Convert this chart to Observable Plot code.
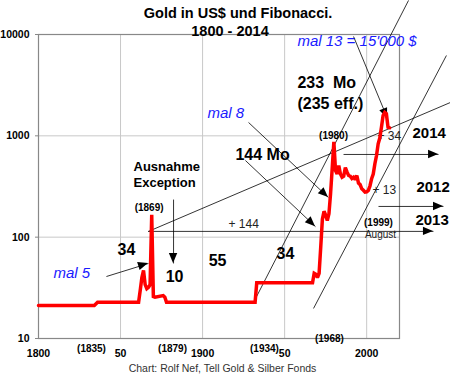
<!DOCTYPE html>
<html><head><meta charset="utf-8">
<script src="https://cdn.jsdelivr.net/npm/d3@7"></script>
<script src="https://cdn.jsdelivr.net/npm/@observablehq/plot@0.6"></script>
<style>
body{margin:0;background:#fff;}
#chart svg{display:block;overflow:visible}
g[aria-label="y-axis tick label"], g[aria-label="x-axis tick label"]{font-weight:bold;font-size:10.5px}
</style>
</head><body><div id="chart"></div>
<script>
// Gold price (US$/oz)
const years = [1800,1834,1836,1861,1862,1863,1864,1865,1866,1867,1868,1869,1870,1871,1876,1877,1878,1932,1933,1967,1968,
  1969,1970,1971,1972,1973,1974,1975,1976,1977,1978,1979,1980,1981,1982,1983,1984,1985,1986,1987,1988,1989,1990,1991,1992,
  1993,1994,1995,1996,1997,1998,1999,2000,2001,2002,2003,2004,2005,2006,2007,2008,2009,2010,2011,2012,2013,2014];
const prices = [21.2,21.2,22.8,22.8,30,40,47,34,31,32,34,166,26,25.6,26.5,25.6,22.8,22.8,35.5,35.5,44,
  43,40,44,80,150,180,165,146,170,270,480,870,455,420,509,420,391,400,487,440,406,400,380,391,
  370,406,341,330,300,290,278,280,289,320,377,420,530,640,834,950,1217,1587,1700,1650,1217,1200];

const yTicks = [10, 100, 1000, 10000];
const xTicks = [1800, 1850, 1900, 1950, 2000];
const xTickLabels = ["1800", "50", "1900", "50", "2000"];
const gridYears = [1850, 1900, 1950, 2000];
const gridValues = [100, 1000];

const series = years.map((y, i) => ({year: y, price: prices[i]}));

// Fibonacci lines and arrows (year, value)
const fibLines = [
  {x1: 1867, y1: 114, x2: 2051, y2: 2133},
  {x1: 1931.0, y1: 22.6, x2: 2025.5, y2: 21680},
  {x1: 1967.6, y1: 19.8, x2: 2048.6, y2: 6209}
];
const arrows = [
  {x1: 1866.8, y1: 114, x2: 2040.7, y2: 114},
  {x1: 1985.9, y1: 655, x2: 2043.8, y2: 655},
  {x1: 2007.2, y1: 201, x2: 2046.8, y2: 201},
  {x1: 1992.0, y1: 9550, x2: 2012.7, y2: 1483},
  {x1: 1928.0, y1: 1355, x2: 1976.7, y2: 246},
  {x1: 1926.1, y1: 571, x2: 1968.8, y2: 127},
  {x1: 1841.4, y1: 40.9, x2: 1867.0, y2: 55},
  {x1: 1882.3, y1: 235, x2: 1882.3, y2: 55}
];

const blueLabels = [
  {text: "mal 13 = 15'000 $", year: 1957.8, value: 8530},
  {text: "mal 8", year: 1903.0, value: 1660},
  {text: "mal 5", year: 1809.1, value: 43.8}
];
const bigLabels = [
  {text: "233\u00a0 Mo", year: 1957.8, value: 3357},
  {text: "(235 eff.)", year: 1957.8, value: 2084},
  {text: "144 Mo", year: 1920.0, value: 655}
];
const midLabels = [
  {text: "Ausnahme", year: 1857.9, value: 498},
  {text: "Exception", year: 1857.9, value: 347}
];
const numLabels = [
  {text: "34", year: 1853.6, value: 75.5},
  {text: "10", year: 1882.9, value: 40.9},
  {text: "55", year: 1909.1, value: 58.9},
  {text: "34", year: 1950.5, value: 69.0}
];
const yearLabels = [
  {text: "2014", year: 2027.9, value: 1054},
  {text: "2012", year: 2030.3, value: 309},
  {text: "2013", year: 2029.7, value: 146}
];
const plusLabels = [
  {text: "+ 144", year: 1915.8, value: 133},
  {text: "+ 34", year: 2006.6, value: 984},
  {text: "+ 13", year: 2003.5, value: 289}
];
const smallBold = [
  {text: "(1869)", year: 1867.4, value: 196},
  {text: "(1980)", year: 1979.8, value: 1007},
  {text: "(1999)", year: 2007.2, value: 140},
  {text: "(1835)", year: 1832.3, value: 7.96},
  {text: "(1879)", year: 1881.7, value: 7.96},
  {text: "(1934)", year: 1937.7, value: 7.96},
  {text: "(1968)", year: 1977.3, value: 10}
];
const smallRegular = [
  {text: "August", year: 2008.4, value: 106}
];

function arrowHeads(list) {
  return (index, scales) => {
    const g = d3.create("svg:g").attr("fill", "#000");
    for (const a of list) {
      const x1 = scales.x(a.x1), y1 = scales.y(a.y1), x2 = scales.x(a.x2), y2 = scales.y(a.y2);
      const ang = Math.atan2(y2 - y1, x2 - x1);
      const L = 10, W = 4.2;
      const bx = x2 - L * Math.cos(ang), by = y2 - L * Math.sin(ang);
      const px = -Math.sin(ang) * W, py = Math.cos(ang) * W;
      g.append("path").attr("d", `M${x2},${y2}L${bx + px},${by + py}L${bx - px},${by - py}Z`);
    }
    return g.node();
  };
}

const font = "'Liberation Sans', Arial, sans-serif";
const chart = Plot.plot({
  width: 450, height: 377,
  marginLeft: 38, marginRight: 51, marginTop: 34, marginBottom: 39,
  style: {fontFamily: font, fontSize: "10px", background: "#fff", color: "#000"},
  x: {domain: [1800, 2020]},
  y: {type: "log", domain: [10, 10000]},
  marks: [
    Plot.ruleX(gridYears, {stroke: "#c8c8c8", strokeWidth: 1}),
    Plot.ruleY(gridValues, {stroke: "#c8c8c8", strokeWidth: 1}),
    Plot.frame({stroke: "#888", strokeWidth: 1.2}),
    Plot.axisY({ticks: yTicks, tickFormat: d => String(d), tickSize: 3, tickPadding: 6, stroke: "#888", label: null, fontWeight: "bold"}),
    Plot.axisX({ticks: xTicks, tickFormat: d => xTickLabels[xTicks.indexOf(d)], tickSize: 0, tickPadding: 11, label: null, fontWeight: "bold"}),
    Plot.link(fibLines, {x1: "x1", y1: "y1", x2: "x2", y2: "y2", stroke: "#000", strokeWidth: 0.8}),
    Plot.link(arrows, {x1: "x1", y1: "y1", x2: "x2", y2: "y2", stroke: "#000", strokeWidth: 0.8}),
    arrowHeads(arrows),
    Plot.text(blueLabels, {x: "year", y: "value", text: "text", textAnchor: "start", fill: "#1a1aff", fontSize: 15, fontStyle: "italic"}),
    Plot.text(bigLabels, {x: "year", y: "value", text: "text", textAnchor: "start", fontSize: 16, fontWeight: "bold"}),
    Plot.text(midLabels, {x: "year", y: "value", text: "text", textAnchor: "start", fontSize: 13, fontWeight: "bold"}),
    Plot.text(numLabels, {x: "year", y: "value", text: "text", fontSize: 16, fontWeight: "bold"}),
    Plot.text(yearLabels, {x: "year", y: "value", text: "text", textAnchor: "start", fontSize: 15, fontWeight: "bold"}),
    Plot.text(plusLabels, {x: "year", y: "value", text: "text", textAnchor: "start", fontSize: 12, fill: "#222"}),
    Plot.text(smallBold, {x: "year", y: "value", text: "text", fontSize: 10, fontWeight: "bold"}),
    Plot.text(smallRegular, {x: "year", y: "value", text: "text", fontSize: 10, fill: "#222"}),
    Plot.line(series, {x: "year", y: "price", stroke: "#ff0000", strokeWidth: 3.5, strokeLinejoin: "miter", strokeMiterlimit: 2}),
    Plot.text(["Gold in US$ und Fibonacci."], {frameAnchor: "top", dx: 19, dy: -27, fontSize: 14.5, fontWeight: "bold"}),
    Plot.text(["1800 - 2014"], {frameAnchor: "top", dx: 11, dy: -9, fontSize: 14.5, fontWeight: "bold"}),
    Plot.text(["Chart: Rolf Nef, Tell Gold & Silber Fonds"], {frameAnchor: "bottom", dx: 3.5, dy: 33, fontSize: 10.5, fill: "#333"})
  ]
});
document.getElementById("chart").appendChild(chart);
</script>
</body></html>
